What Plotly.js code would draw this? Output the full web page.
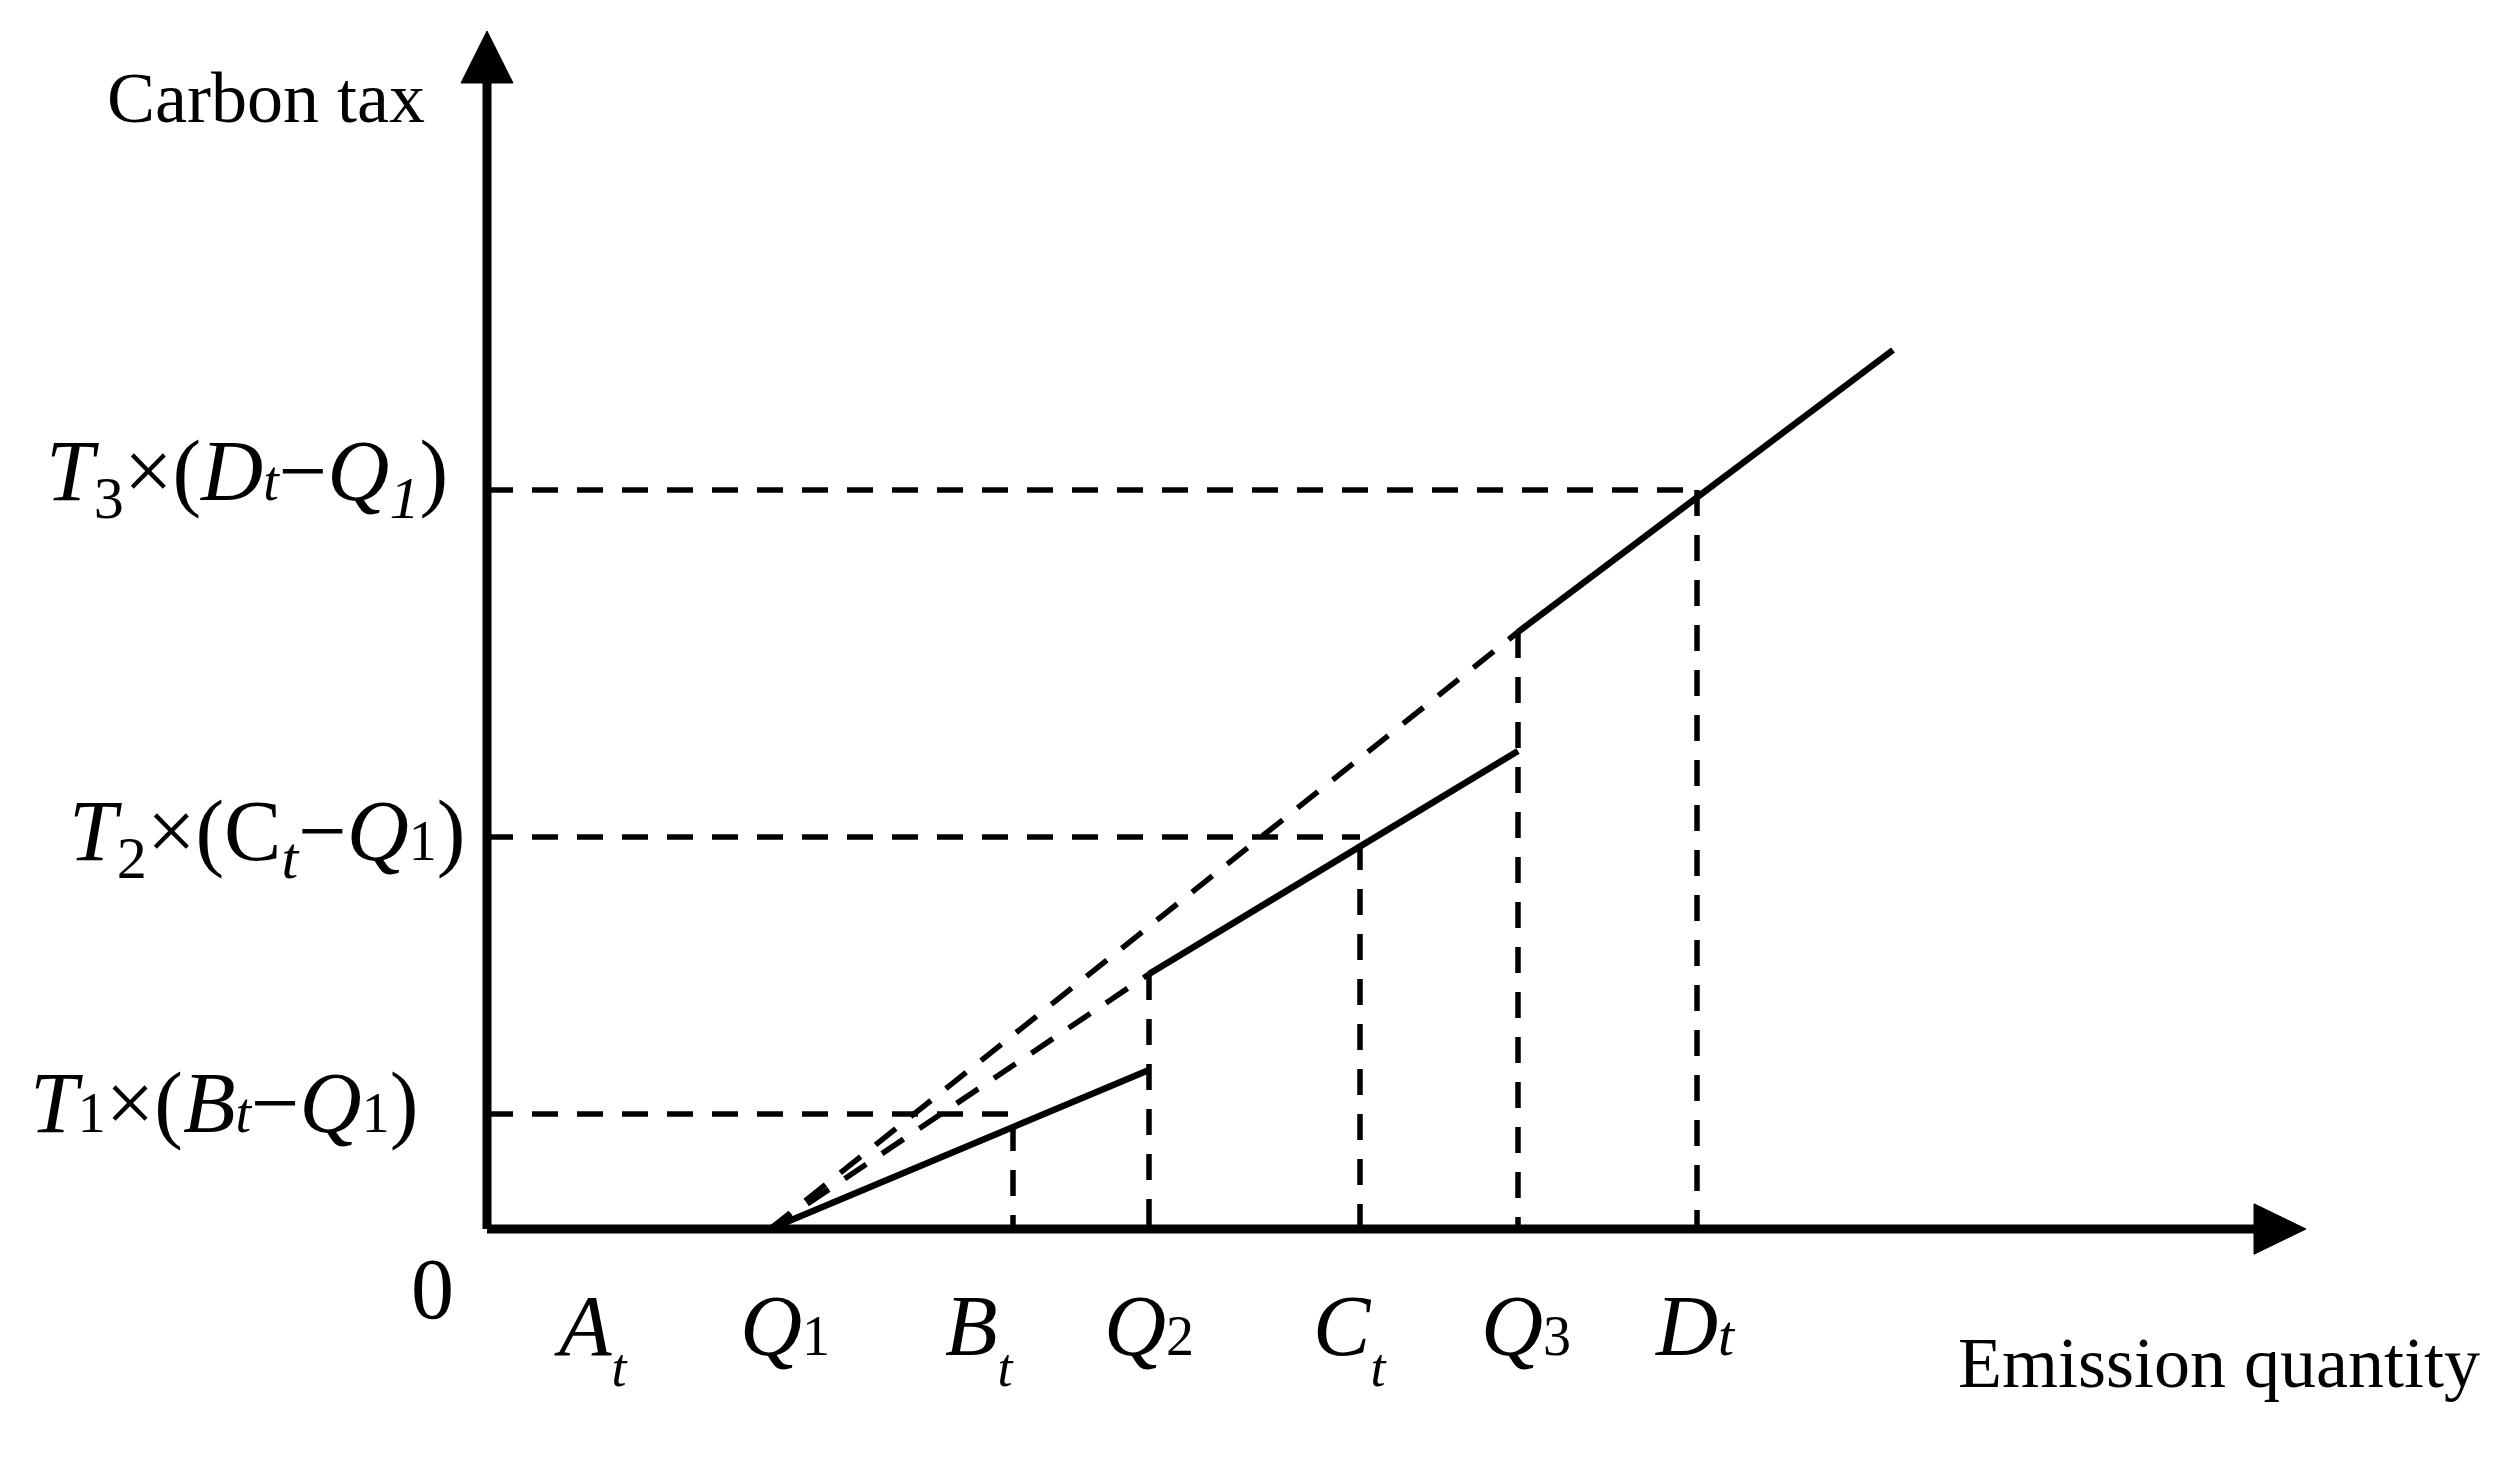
<!DOCTYPE html>
<html>
<head>
<meta charset="utf-8">
<script src="https://cdn.plot.ly/plotly-3.0.1.min.js"></script>
<style>
  html, body { margin: 0; padding: 0; background: #fff; }
  #chart { width: 2520px; height: 1480px; }
</style>
</head>
<body>
<div id="chart"></div>
<script>
// Emission quantity marks (chart units, origin at 0)
const markNames = ["A_t", "Q1", "B_t", "Q2", "C_t", "Q3", "D_t"];
const markX = [10.4, 28.3, 52.6, 66.2, 87.3, 103.1, 121.0];
const markLabels = [
  "<i>A</i><sub><sub><i><span style='font-size:54px'>t</span></i></sub></sub>",
  "<i>Q</i><span style='font-size:56px'>1</span>",
  "<i>B</i><sub><sub><i><span style='font-size:54px'>t</span></i></sub></sub>",
  "<i>Q</i><span style='font-size:56px'>2</span>",
  "<i>C</i><sub><sub><i><span style='font-size:54px'>t</span></i></sub></sub>",
  "<i>Q</i><span style='font-size:56px'>3</span>",
  "<i>D</i><i><span style='font-size:58px'>t</span></i>",
];

// Carbon tax levels at B_t, C_t, D_t
const taxLevels = [11.5, 39.2, 73.9];
const taxLevelX = [52.6, 87.3, 121.0];
const taxLabels = [
  "<i>T</i><span style='font-size:56px'>1</span>×(<i>B</i><i><span style='font-size:56px'>t</span></i>−<i>Q</i><span style='font-size:56px'>1</span>)",
  "<i>T</i><sub>2</sub>×(C<sub><i>t</i></sub>−<i>Q</i><span style='font-size:56px'>1</span>)",
  "<i>T</i><sub>3</sub>×(<i>D</i><i><span style='font-size:56px'>t</span></i>−<i>Q</i><sub><i>1</i></sub>)",
];

// Solid tax segments (one per tier)
const tier1X = [28.3, 66.2];
const tier1Y = [0, 15.9];
const tier2X = [66.2, 103.1];
const tier2Y = [25.5, 47.8];
const tier3X = [103.1, 140.6];
const tier3Y = [59.7, 87.9];

// Dashed extensions back to Q1
const ext2X = [28.3, 66.2];
const ext2Y = [0, 25.5];
const ext3X = [28.3, 103.1];
const ext3Y = [0, 59.7];

// Vertical guide lines: x mark and the height they reach
const guideX = [52.6, 66.2, 87.3, 103.1, 121.0];
const guideTop = [10.4, 25.5, 38.5, 59.7, 73.9];

// Axis extents
const xAxisEnd = 181.9;
const yAxisEnd = 119.8;

const FONT = "'Liberation Serif', 'Times New Roman', serif";
const ink = "#000";

function line(x, y, width, dash) {
  return {
    type: "scatter",
    mode: "lines",
    x: x,
    y: y,
    line: { color: ink, width: width, dash: dash || "solid" },
    hoverinfo: "skip",
  };
}

const dashStyle = "26px,19px";
const traces = [];

// horizontal guides start at the axis
taxLevels.forEach((lv, i) => {
  traces.push(line([0, taxLevelX[i]], [lv, lv], 5.5, dashStyle));
});
// vertical guides start at their top
guideX.forEach((gx, i) => {
  traces.push(line([gx, gx], [guideTop[i], 0], 5.5, dashStyle));
});

traces.push(line(ext2X, ext2Y, 5.5, dashStyle));
traces.push(line(ext3X, ext3Y, 5.5, dashStyle));

traces.push(line(tier1X, tier1Y, 6.5));
traces.push(line(tier2X, tier2Y, 6.5));
traces.push(line(tier3X, tier3Y, 6.5));

// axes with arrow heads
const headLen = 5.2;
const headHalf = 2.6;
traces.push(line([0, xAxisEnd - headLen + 0.5], [0, 0], 9));
traces.push(line([0, 0], [0, yAxisEnd - headLen + 0.5], 9));
traces.push({
  type: "scatter", mode: "lines", fill: "toself", fillcolor: ink,
  x: [xAxisEnd - headLen, xAxisEnd, xAxisEnd - headLen, xAxisEnd - headLen],
  y: [headHalf * 0.97, 0, -headHalf * 0.97, headHalf * 0.97],
  line: { color: ink, width: 1 }, hoverinfo: "skip",
});
traces.push({
  type: "scatter", mode: "lines", fill: "toself", fillcolor: ink,
  x: [-headHalf, 0, headHalf, -headHalf],
  y: [yAxisEnd - headLen, yAxisEnd, yAxisEnd - headLen, yAxisEnd - headLen],
  line: { color: ink, width: 1 }, hoverinfo: "skip",
});

// text placement (chart units)
const markLabelX = [10.4, 29.8, 49.3, 66.2, 86.3, 103.9, 120.8];
const markLabelTop = -4.7;
const taxLabelRight = [-6.7, -2.0, -3.7];
const taxLabelTop = [17.6, 44.8, 80.8];

const annotations = [];
markLabels.forEach((t, i) => {
  annotations.push({
    x: markLabelX[i], y: markLabelTop, xref: "x", yref: "y",
    xanchor: "center", yanchor: "top", showarrow: false,
    text: t, font: { family: FONT, size: 86, color: ink },
  });
});
taxLabels.forEach((t, i) => {
  annotations.push({
    x: taxLabelRight[i], y: taxLabelTop[i], xref: "x", yref: "y",
    xanchor: "right", yanchor: "top", showarrow: false,
    text: t, font: { family: FONT, size: 86, color: ink },
  });
});
annotations.push({
  x: -5.5, y: -1.0, xref: "x", yref: "y", xanchor: "center", yanchor: "top",
  showarrow: false, text: "0", font: { family: FONT, size: 86, color: ink },
});
annotations.push({
  x: -6.0, y: 117.3, xref: "x", yref: "y", xanchor: "right", yanchor: "top",
  showarrow: false, text: "Carbon tax", font: { family: FONT, size: 72, color: ink },
});
annotations.push({
  x: 199.5, y: -9.2, xref: "x", yref: "y", xanchor: "right", yanchor: "top",
  showarrow: false, text: "Emission quantity", font: { family: FONT, size: 72, color: ink },
});

const layout = {
  width: 2520,
  height: 1480,
  margin: { l: 0, r: 0, t: 0, b: 0 },
  paper_bgcolor: "#fff",
  plot_bgcolor: "#fff",
  showlegend: false,
  xaxis: { range: [-48.7, 203.3], visible: false, fixedrange: true },
  yaxis: { range: [-25.1, 122.9], visible: false, fixedrange: true },
  annotations: annotations,
};

Plotly.newPlot("chart", traces, layout, { staticPlot: true });
</script>
</body>
</html>
